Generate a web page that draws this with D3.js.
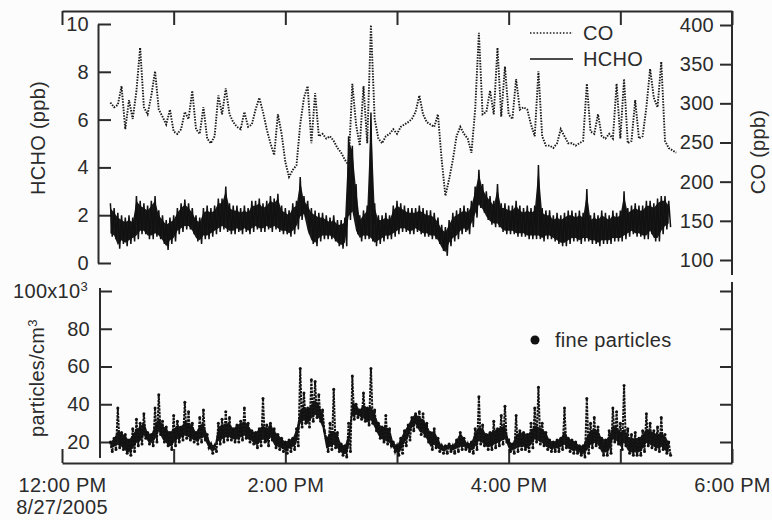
<!DOCTYPE html>
<html>
<head>
<meta charset="utf-8">
<script src="https://cdn.jsdelivr.net/npm/d3@7"></script>
<style>
  body { margin: 0; background: #fcfcfc; }
  svg { display: block; font-family: "Liberation Sans", Arial, sans-serif; }
  text { fill: #2b2b2b; font-size: 20px; letter-spacing: 0.3px; }
  .domain, .tick line, .axisline { stroke: #2b2b2b; stroke-width: 2; }
</style>
</head>
<body>
<div id="container"></div>
<script>

/* DATA */
// samples every 2 minutes starting 12:26 PM, 8/27/2005
const startMinute = 26,
  stepMinutes = 2;

// CO (ppb)
const coPpb = [
  301, 295, 298, 322, 267, 304, 280, 316, 371, 295,
  286, 310, 341, 292, 283, 273, 292, 264, 261, 267,
  289, 280, 316, 267, 261, 295, 255, 249, 258, 310,
  286, 319, 286, 276, 270, 267, 289, 270, 273, 292,
  307, 289, 267, 249, 234, 286, 261, 225, 206, 215,
  221, 273, 307, 322, 249, 313, 258, 261, 255, 258,
  252, 243, 237, 228, 221, 325, 273, 246, 322, 249,
  400, 280, 255, 249, 258, 261, 267, 261, 270, 273,
  276, 280, 289, 310, 286, 276, 273, 270, 286, 228,
  182, 203, 228, 258, 270, 261, 255, 237, 292, 390,
  286, 289, 316, 286, 371, 283, 347, 286, 280, 331,
  292, 295, 292, 273, 258, 341, 258, 246, 246, 243,
  249, 267, 258, 249, 249, 246, 249, 252, 325, 264,
  261, 286, 258, 255, 261, 255, 325, 255, 331, 249,
  252, 304, 255, 258, 295, 344, 307, 295, 353, 252,
  243, 240, 237
];

// HCHO (ppb): top and bottom of the trace in each 2-minute window
const hchoHigh = [
  2.5, 2.3, 2.1, 2.0, 1.9, 2.0, 1.9, 2.8, 2.6, 2.5,
  2.4, 2.6, 2.8, 2.2, 2.0, 1.8, 1.9, 2.0, 2.3, 2.5,
  2.65, 2.5, 2.3, 2.0, 1.9, 2.3, 2.4, 2.3, 2.4, 2.7,
  2.7, 3.2, 2.5, 2.4, 2.4, 2.3, 2.4, 2.3, 2.6, 2.6,
  2.7, 2.5, 2.6, 2.8, 2.7, 2.9, 2.4, 2.3, 2.2, 2.5,
  2.6, 3.6, 2.8, 2.6, 2.3, 2.2, 2.1, 2.1, 2.0, 1.9,
  2.0, 1.8, 1.8, 1.9, 5.3, 4.9, 3.3, 2.0, 2.2, 2.4,
  6.3, 2.5, 2.0, 2.0, 2.1, 2.0, 2.4, 2.6, 2.5, 2.4,
  2.3, 2.3, 2.3, 2.4, 2.3, 2.2, 2.2, 2.1, 1.9, 1.6,
  1.5, 1.8, 2.1, 2.2, 2.3, 2.4, 2.3, 2.6, 3.2, 3.9,
  3.3, 3.0, 2.8, 2.6, 3.3, 2.5, 2.5, 2.4, 2.4, 2.6,
  2.4, 2.3, 2.4, 2.3, 2.4, 4.1, 2.3, 2.2, 2.2, 2.0,
  2.1, 2.0, 2.1, 2.2, 2.2, 2.1, 2.2, 2.1, 3.1, 2.0,
  2.1, 2.0, 2.2, 2.1, 2.0, 2.2, 2.1, 2.2, 3.0, 2.3,
  2.4, 2.5, 2.4, 2.4, 2.6, 2.6, 2.5, 2.7, 2.8, 2.8,
  2.6
];
const hchoLow = [
  1.1, 1.0, 0.6, 0.8, 0.7, 0.8, 0.9, 1.0, 1.2, 1.2,
  1.0, 1.0, 1.1, 1.0, 0.8, 0.55, 0.8, 0.9, 1.2, 1.3,
  1.4, 1.4, 1.2, 0.9, 0.8, 1.0, 1.0, 1.1, 1.2, 1.3,
  1.4, 1.3, 1.2, 1.2, 1.3, 1.2, 1.3, 1.2, 1.3, 1.4,
  1.3, 1.3, 1.4, 1.3, 1.4, 1.3, 1.2, 1.2, 1.1, 1.2,
  1.4, 1.8, 1.9, 1.2, 0.8, 0.7, 0.9, 1.0, 1.0, 1.0,
  0.9, 0.7, 0.6, 0.7, 1.8, 2.0, 1.2, 0.9, 1.0, 1.0,
  0.9, 0.7, 0.8, 0.9, 1.0, 1.0, 1.1, 1.2, 1.3, 1.3,
  1.2, 1.2, 1.3, 1.2, 1.1, 1.1, 1.0, 1.0, 0.8, 0.5,
  0.3, 0.7, 0.9, 1.0, 1.2, 1.3, 1.2, 1.5, 1.9, 2.3,
  2.1, 1.8, 1.6, 1.5, 1.5, 1.3, 1.2, 1.2, 1.2, 1.1,
  1.1, 1.1, 1.0, 1.0, 1.0, 1.0, 0.9, 1.0, 1.0, 0.9,
  0.8, 0.7, 0.7, 0.8, 0.9, 0.9, 0.8, 0.9, 0.9, 0.8,
  0.8, 0.7, 0.8, 0.8, 0.8, 0.9, 0.9, 0.9, 1.0, 1.1,
  1.2, 1.1, 1.1, 1.0, 1.0, 1.2, 0.9, 0.9, 1.2, 1.4,
  1.5
];

// fine particles (x10^3 per cm3): top and bottom in each 2-minute window
const particlesHigh = [
  20, 22, 38, 25, 24, 21, 27, 32, 30, 35,
  25, 24, 38, 45, 31, 28, 25, 34, 31, 28,
  41, 36, 30, 25, 33, 37, 24, 19, 18, 30,
  32, 36, 33, 27, 29, 31, 38, 30, 26, 25,
  27, 43, 29, 30, 27, 24, 22, 20, 21, 22,
  27, 59, 46, 38, 53, 52, 45, 37, 22, 30,
  48, 25, 19, 18, 30, 55, 40, 37, 46, 38,
  59, 37, 30, 28, 34, 27, 20, 18, 22, 26,
  29, 33, 35, 36, 35, 30, 25, 27, 22, 18,
  18, 19, 18, 21, 25, 22, 19, 20, 27, 44,
  29, 24, 25, 31, 27, 34, 39, 21, 19, 34,
  26, 25, 24, 30, 38, 49, 30, 25, 21, 20,
  21, 22, 38, 22, 21, 20, 18, 18, 43, 30,
  33, 28, 22, 21, 26, 38, 36, 30, 50, 27,
  24, 25, 22, 26, 35, 30, 26, 28, 33, 24,
  20
];
const particlesLow = [
  15, 16, 17, 16, 14, 13, 15, 18, 19, 22,
  19, 18, 20, 24, 20, 18, 16, 18, 20, 21,
  22, 21, 20, 19, 20, 21, 17, 14, 15, 19,
  20, 21, 21, 20, 20, 21, 22, 20, 19, 17,
  18, 20, 18, 21, 17, 16, 15, 14, 15, 16,
  18, 28, 30, 28, 31, 33, 31, 26, 15, 16,
  17, 15, 13, 12, 15, 32, 33, 32, 31, 29,
  30, 26, 22, 20, 19, 18, 15, 13, 14, 18,
  21, 26, 28, 24, 23, 20, 16, 17, 15, 14,
  14, 15, 14, 15, 16, 16, 15, 14, 16, 19,
  18, 16, 16, 17, 18, 19, 20, 15, 14, 15,
  16, 16, 15, 17, 20, 19, 18, 16, 15, 15,
  15, 16, 17, 15, 14, 14, 13, 12, 14, 17,
  18, 17, 13, 13, 14, 20, 19, 16, 18, 14,
  13, 13, 13, 15, 18, 17, 16, 15, 16, 14,
  13
];

const hourTicks = [12, 13, 14, 15, 16, 17, 18];
const labelHours = [12, 14, 16, 18];
const hchoTicks = [0, 2, 4, 6, 8, 10];
const coTicks = [100, 150, 200, 250, 300, 350, 400];
const particleTicks = [20, 40, 60, 80, 100];

/* CONSTANTS */
const width = 772,
  height = 520,
  frame = { left: 62, right: 732, top: 11, bottom: 463 };

const at = (h, m = 0) => new Date(2005, 7, 27, h, m);
const sampleTime = (i, extra = 0) => at(12, startMinute + i * stepMinutes + extra);

/* SCALES */
const xScale = d3.scaleTime()
  .domain([at(12), at(18)])
  .range([frame.left, frame.right]);

const hchoScale = d3.scaleLinear().domain([0, 10]).range([263, 24]);
const coScale = d3.scaleLinear().domain([100, 400]).range([260, 25]);
const partScale = d3.scaleLinear().domain([20, 100]).range([442, 291]);

/* SVG */
const svg = d3.select("#container")
  .append("svg")
  .attr("width", width)
  .attr("height", height);

// top and bottom frame with hour ticks
svg.append("g")
  .attr("transform", `translate(0,${frame.top})`)
  .call(d3.axisBottom(xScale).tickValues(hourTicks.map(h => at(h)))
    .tickSize(14).tickSizeOuter(0).tickFormat(""));

svg.append("g")
  .attr("transform", `translate(0,${frame.bottom})`)
  .call(d3.axisTop(xScale).tickValues(hourTicks.map(h => at(h)))
    .tickSize(14).tickSizeOuter(0).tickFormat(""));

const timeLabels = svg.append("g")
  .attr("transform", `translate(0,${frame.bottom})`)
  .call(d3.axisBottom(xScale).tickValues(labelHours.map(h => at(h)))
    .tickSize(0).tickPadding(15).tickFormat(d3.timeFormat("%-I:%M %p")));
timeLabels.select(".domain").remove();
timeLabels.attr("font-size", null).attr("font-family", null);

svg.append("text")
  .attr("x", xScale(at(12)))
  .attr("y", 514)
  .attr("text-anchor", "middle")
  .text("8/27/2005");

// HCHO axis (left, top panel)
const hchoAxis = svg.append("g")
  .attr("transform", "translate(98,0)")
  .call(d3.axisLeft(hchoScale).tickValues(hchoTicks)
    .tickSizeInner(-13).tickSizeOuter(0).tickPadding(9));
hchoAxis.attr("font-size", null).attr("font-family", null);

// CO axis (right, top panel), labels sit inside the plot
const coAxis = svg.append("g")
  .attr("transform", `translate(${frame.right},0)`)
  .call(d3.axisRight(coScale).tickValues(coTicks)
    .tickSizeInner(-12).tickSizeOuter(0));
coAxis.attr("font-size", null).attr("font-family", null);
coAxis.select(".domain").remove();
coAxis.selectAll(".tick text").attr("x", -18).attr("text-anchor", "end");
coAxis.append("line").attr("class", "axisline")
  .attr("y1", frame.top).attr("y2", 275);

// particle axis (left, bottom panel)
const partAxis = svg.append("g")
  .attr("transform", "translate(100,0)")
  .call(d3.axisLeft(partScale).tickValues(particleTicks)
    .tickSizeInner(-12).tickSizeOuter(0).tickPadding(10));
partAxis.attr("font-size", null).attr("font-family", null);
partAxis.select(".domain").remove();
partAxis.append("line").attr("class", "axisline").attr("y1", 288).attr("y2", 458);
partAxis.selectAll(".tick text").filter(d => d === 100)
  .attr("x", -12)
  .text("100x10")
  .append("tspan").attr("dy", "-0.55em").style("font-size", "13px").text("3");

// particle axis (right, bottom panel)
const partRight = svg.append("g")
  .attr("transform", `translate(${frame.right},0)`)
  .call(d3.axisRight(partScale).tickValues(particleTicks)
    .tickSizeInner(-12).tickSizeOuter(0).tickFormat(""));
partRight.select(".domain").remove();
partRight.append("line").attr("class", "axisline").attr("y1", 282).attr("y2", frame.bottom);

// axis titles
svg.append("text")
  .attr("transform", "translate(45,138) rotate(-90)")
  .attr("text-anchor", "middle")
  .text("HCHO (ppb)");

svg.append("text")
  .attr("transform", "translate(765,152) rotate(-90)")
  .attr("text-anchor", "middle")
  .text("CO (ppb)");

const partTitle = svg.append("text")
  .attr("transform", "translate(44,437) rotate(-90)")
  .attr("text-anchor", "start")
  .text("particles/cm");
partTitle.append("tspan").attr("dy", "-0.55em").style("font-size", "13px").text("3");

/* MARKS */
const hchoPoints = hchoHigh.flatMap((h, i) => [
  { t: sampleTime(i, 0), v: h },
  { t: sampleTime(i, 1), v: hchoLow[i] }
]);
const partPoints = particlesHigh.flatMap((h, i) => [
  { t: sampleTime(i, 0), v: h },
  { t: sampleTime(i, 1), v: particlesLow[i] }
]);
const coPoints = coPpb.map((v, i) => ({ t: sampleTime(i, 0), v }));

// dense core of the HCHO trace
const hchoCore = d3.area()
  .x((d, i) => xScale(sampleTime(i, 0.5)))
  .y0((d, i) => hchoScale(hchoLow[i] + 0.15))
  .y1(d => hchoScale(d - 0.2));
svg.append("path")
  .datum(hchoHigh)
  .attr("fill", "#1a1a1a")
  .attr("d", hchoCore);

svg.append("path")
  .datum(hchoPoints)
  .attr("fill", "none")
  .attr("stroke", "#111")
  .attr("stroke-width", 1.5)
  .attr("d", d3.line().x(d => xScale(d.t)).y(d => hchoScale(d.v)));

svg.append("path")
  .datum(coPoints)
  .attr("fill", "none")
  .attr("stroke", "#1a1a1a")
  .attr("stroke-width", 1.9)
  .attr("stroke-dasharray", "1.5,1.3")
  .attr("d", d3.line().x(d => xScale(d.t)).y(d => coScale(d.v)));

// dense core of the particle trace
const partCore = d3.area()
  .x((d, i) => xScale(sampleTime(i, 0.5)))
  .y0((d, i) => partScale(particlesLow[i] + 1.5))
  .y1((d, i) => partScale(Math.max(particlesLow[i] + 3, Math.min(d, particlesLow[i] + 9))));
svg.append("path")
  .datum(particlesHigh)
  .attr("fill", "#1a1a1a")
  .attr("d", partCore);

svg.append("path")
  .datum(partPoints)
  .attr("fill", "none")
  .attr("stroke", "#111")
  .attr("stroke-width", 2)
  .attr("stroke-dasharray", "2.5,1")
  .attr("d", d3.line().x(d => xScale(d.t)).y(d => partScale(d.v)));

svg.selectAll(".pdot")
  .data(partPoints)
  .join("circle")
  .attr("class", "pdot")
  .attr("cx", d => xScale(d.t))
  .attr("cy", d => partScale(d.v))
  .attr("r", 1.5)
  .attr("fill", "#111");

/* LEGENDS */
svg.append("line")
  .attr("x1", 530).attr("x2", 573).attr("y1", 33).attr("y2", 33)
  .attr("stroke", "#1a1a1a").attr("stroke-width", 1.6).attr("stroke-dasharray", "1.5,1.8");
svg.append("text").attr("x", 583).attr("y", 40).text("CO");

svg.append("line")
  .attr("x1", 530).attr("x2", 573).attr("y1", 59).attr("y2", 59)
  .attr("stroke", "#111").attr("stroke-width", 1.6);
svg.append("text").attr("x", 583).attr("y", 66).text("HCHO");

svg.append("circle").attr("cx", 535).attr("cy", 340).attr("r", 4.5).attr("fill", "#111");
svg.append("text").attr("x", 555).attr("y", 347).text("fine particles");

</script>
</body>
</html>
